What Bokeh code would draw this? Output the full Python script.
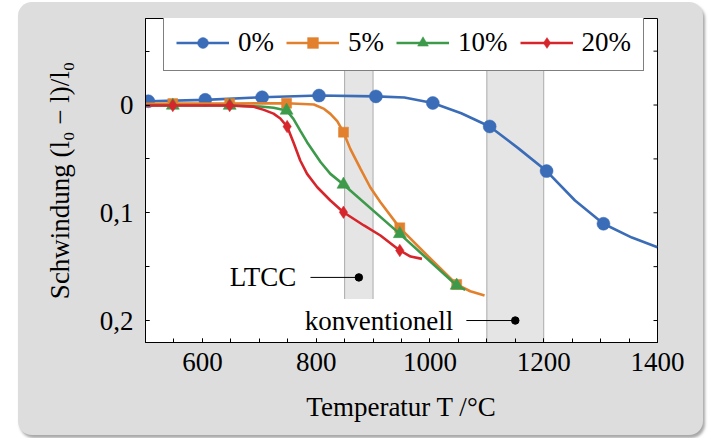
from bokeh.plotting import figure
from bokeh.models import Range1d, FixedTicker, CustomJSTickFormatter, ColumnDataSource
from bokeh.core.properties import value
from bokeh.embed import file_html
from bokeh.resources import INLINE

# ---------------- data ----------------
series_names = ["0%", "5%", "10%", "20%"]

# 0 %
t0_line = [505, 605, 705, 805, 905, 955, 1005, 1055, 1105, 1155, 1205, 1255, 1305, 1355, 1400]
v0_line = [-0.0035, -0.0048, -0.0072, -0.0088, -0.0080, -0.0070, -0.0019, 0.0076, 0.0199,
           0.0400, 0.0613, 0.0886, 0.1102, 0.1230, 0.1320]
t0_mark = [505, 605, 705, 805, 905, 1005, 1105, 1205, 1305]
v0_mark = [-0.0035, -0.0048, -0.0072, -0.0088, -0.0080, -0.0019, 0.0199, 0.0613, 0.1102]

# 5 %
t5_line = [500, 548, 648, 748, 796, 814, 825, 837, 848, 860, 878, 895, 913, 947, 997, 1047, 1071, 1096]
v5_line = [-0.0012, -0.0013, -0.0014, -0.0017, -0.0005, 0.0036, 0.0082, 0.0150, 0.0252, 0.0407,
           0.0592, 0.0763, 0.0902, 0.1140, 0.1406, 0.1666, 0.1728, 0.1768]
t5_mark = [548, 648, 748, 848, 947, 1047]
v5_mark = [-0.0013, -0.0014, -0.0017, 0.0252, 0.1140, 0.1666]

# 10 %
t10_line = [500, 548, 648, 702, 725, 748, 760, 772, 784, 796, 808, 825, 848, 947, 1047, 1062]
v10_line = [0.0003, 0.0004, 0.0005, 0.0014, 0.0026, 0.0051, 0.0128, 0.0237, 0.0345, 0.0438,
            0.0531, 0.0639, 0.0738, 0.1196, 0.1675, 0.1715]
t10_mark = [548, 648, 748, 848, 947, 1047]
v10_mark = [0.0004, 0.0005, 0.0051, 0.0738, 0.1196, 0.1675]

# 20 %
t20_line = [500, 548, 648, 690, 708, 725, 737, 749, 761, 772, 784, 802, 825, 848, 884, 913, 947, 966, 986]
v20_line = [0.0005, 0.0005, 0.0005, 0.0015, 0.0045, 0.0080, 0.0125, 0.0200, 0.0360, 0.0515,
            0.0639, 0.0763, 0.0886, 0.0995, 0.1118, 0.1211, 0.1350, 0.1406, 0.1428]
t20_mark = [548, 648, 749, 848, 947]
v20_mark = [0.0005, 0.0005, 0.0200, 0.0995, 0.1350]

# shaded temperature windows
band_names = ["LTCC", "konventionell"]
band_left = [850, 1100]
band_right = [900, 1200]
band_bottom = [0.18, 0.2204]

# annotations
ann_text = ["LTCC", "konventionell"]
ann_text_x = [765, 1041]
ann_line_x0 = [790, 1064]
ann_dot_x = [875, 1150]
ann_dot_y = [0.16, 0.20]

x_major = [600, 800, 1000, 1200, 1400]
x_minor = list(range(500, 1401, 50))
y_major = [0.0, 0.1, 0.2]
y_minor = [-0.05, 0.0, 0.05, 0.10, 0.15, 0.20]

x_min, x_max = 500, 1400
y_top, y_bottom = -0.0803, 0.2204

# ---------------- styling ----------------
FONT = "Liberation Serif"
FS = "27px"
colors = ["#3b6cb7", "#e2802d", "#3d9a4b", "#d6262c"]

FRAME_W, FRAME_H = 512, 324
p = figure(width=685, height=433,
           x_range=Range1d(x_min, x_max), y_range=Range1d(y_bottom, y_top),
           output_backend="svg", toolbar_location=None,
           min_border_left=127, min_border_right=46, min_border_top=16, min_border_bottom=93)
p.margin = (2, 0, 0, 18)
p.border_fill_alpha = 0
p.background_fill_color = "white"
p.outline_line_color = "black"
p.outline_line_width = 1
p.styles = {"background-color": "#dddddd", "border-radius": "14px",
            "box-shadow": "2px 3px 3px rgba(0,0,0,0.35)"}
p.xgrid.visible = False
p.ygrid.visible = False

# bands
band_src = ColumnDataSource(dict(left=band_left, right=band_right,
                                 top=[y_top, y_top], bottom=band_bottom))
p.quad(left="left", right="right", top="top", bottom="bottom", source=band_src,
       fill_color="#e5e5e5", line_color=None)
p.segment(x0=band_left + band_right, y0=[y_top] * 4,
          x1=band_left + band_right, y1=band_bottom + band_bottom,
          line_color="#ababab", line_width=1)

# mirrored inward ticks on the top and right frame edges
tick_dx = 4 * (x_max - x_min) / FRAME_W
tick_dy = 4 * (y_bottom - y_top) / FRAME_H
p.segment(x0=x_minor, y0=[y_top] * len(x_minor), x1=x_minor, y1=[y_top + tick_dy] * len(x_minor),
          line_color="black", line_width=1)
p.segment(x0=[x_max] * len(y_minor), y0=y_minor, x1=[x_max - tick_dx] * len(y_minor), y1=y_minor,
          line_color="black", line_width=1)

# series
lines = [(t0_line, v0_line), (t5_line, v5_line), (t10_line, v10_line), (t20_line, v20_line)]
marks = [(t0_mark, v0_mark), (t5_mark, v5_mark), (t10_mark, v10_mark), (t20_mark, v20_mark)]
markers = ["circle", "square", "triangle", "diamond"]
sizes = [13, 10, 13, 12.5]
for name, col, (lt, lv), (mt, mv), mk, sz in zip(series_names, colors, lines, marks, markers, sizes):
    p.line(lt, lv, line_color=col, line_width=2.6, legend_label=name)
    p.scatter(mt, mv, marker=mk, size=sz, fill_color=col, line_color=col, line_width=0.5,
              legend_label=name)

# annotations
p.segment(x0=ann_line_x0, y0=ann_dot_y, x1=ann_dot_x, y1=ann_dot_y, line_color="black", line_width=1)
p.scatter(ann_dot_x, ann_dot_y, marker="circle", size=7.5, fill_color="black", line_color="black")
ann_src = ColumnDataSource(dict(x=ann_text_x, y=ann_dot_y, text=ann_text))
p.text(x="x", y="y", text="text", source=ann_src, text_align="right", text_baseline="middle",
       text_font=value(FONT), text_font_size=value(FS), text_color="black")

# axes
yfmt = CustomJSTickFormatter(code="return tick === 0 ? '0' : tick.toFixed(1).replace('.', ',');")

def style_axis(ax):
    ax.major_tick_in = 4
    ax.major_tick_out = 0
    ax.minor_tick_in = 4
    ax.minor_tick_out = 0
    ax.axis_line_color = "black"
    ax.major_tick_line_color = "black"
    ax.minor_tick_line_color = "black"
    ax.major_label_text_font = FONT
    ax.major_label_text_font_size = FS
    ax.major_label_text_color = "black"
    ax.axis_label_text_font = FONT
    ax.axis_label_text_font_size = FS
    ax.axis_label_text_font_style = "normal"
    ax.axis_label_text_color = "black"

xa = p.xaxis[0]
xa.ticker = FixedTicker(ticks=x_major, minor_ticks=x_minor)
xa.axis_label = "Temperatur T /°C"
style_axis(xa)
xa.major_label_standoff = 10
xa.axis_label_standoff = 18

ya = p.yaxis[0]
ya.ticker = FixedTicker(ticks=y_major, minor_ticks=y_minor)
ya.formatter = yfmt
ya.axis_label = "Schwindung (l₀ − l)/l₀"
style_axis(ya)
ya.major_label_standoff = 12
ya.axis_label_standoff = 22

# legend
leg = p.legend[0]
leg.orientation = "horizontal"
leg.location = (18, 271)
leg.label_text_font = FONT
leg.label_text_font_size = FS
leg.label_text_color = "black"
leg.glyph_width = 53
leg.glyph_height = 27
leg.label_height = 27
leg.label_standoff = 9
leg.spacing = 12
leg.padding = 12
leg.margin = 0
leg.border_line_color = "black"
leg.border_line_width = 1
leg.background_fill_color = "white"
leg.background_fill_alpha = 1

open("out.html", "w").write(file_html(p, INLINE))
